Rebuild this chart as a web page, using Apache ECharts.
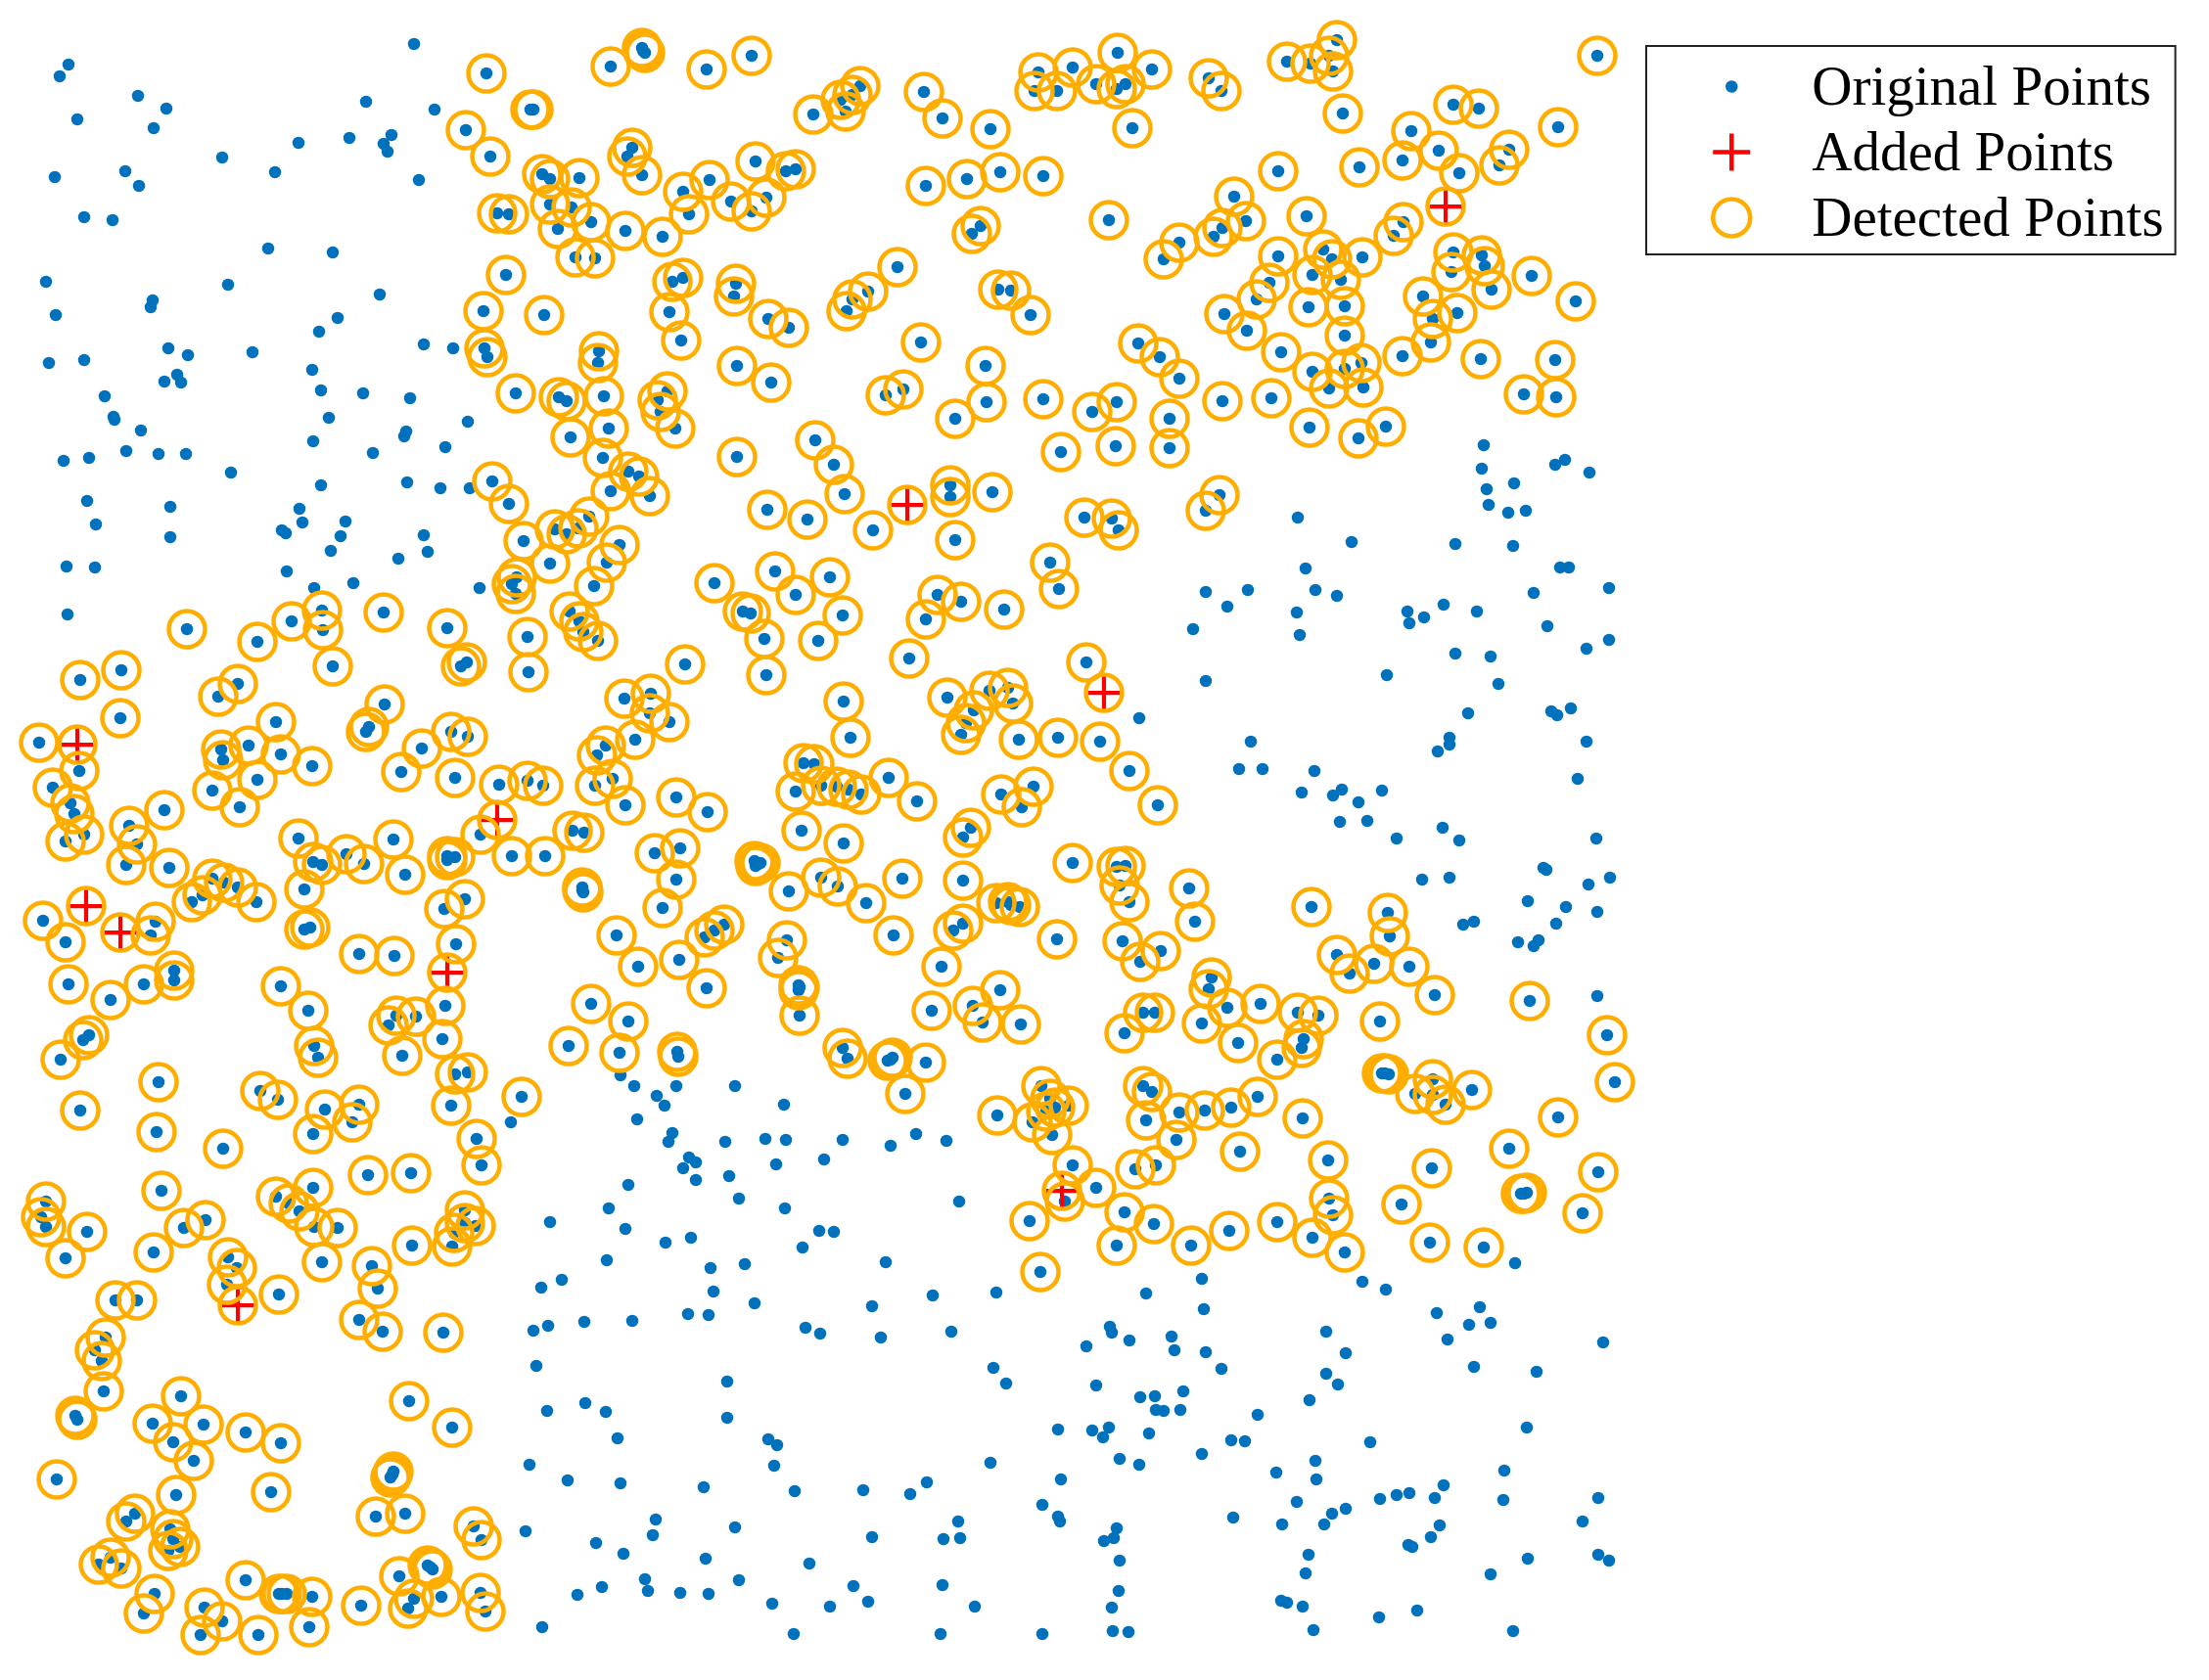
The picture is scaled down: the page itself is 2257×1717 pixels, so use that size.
<!DOCTYPE html>
<html>
<head>
<meta charset="utf-8">
<title>Detected points</title>
<script src="https://cdn.jsdelivr.net/npm/echarts@6/dist/echarts.min.js"></script>
<style>
html,body{margin:0;padding:0;background:#fff;}
#chart{width:2257px;height:1717px;}
</style>
</head>
<body>
<div id="chart"></div>
<script>
// original points that were not picked up by the detector
const plainPoints = [
[423,45],[70,66],[61,78],[141,98],[170,111],[79,122],[157,131],[374,104],[444,112],[305,146],[357,141],[400,138],[392,147],[396,155],[227,161],[281,176],[56,181],[128,175],[142,190],[428,184],[86,222],[115,225],[274,254],[340,258],[47,288],[233,291],[388,301],[156,307],[154,314],[57,322],[345,325],[326,339],[172,356],[192,363],[258,360],[86,368],[50,371],[433,352],[463,356],[319,378],[181,383],[168,390],[185,391],[328,399],[371,402],[419,407],[107,405],
[116,426],[117,429],[144,440],[65,471],[91,468],[129,461],[162,464],[190,464],[236,483],[89,512],[174,518],[98,536],[174,549],[68,579],[97,580],[336,427],[320,451],[381,463],[415,441],[413,446],[455,457],[478,431],[328,496],[416,493],[450,499],[480,499],[306,520],[309,534],[353,533],[288,542],[292,545],[348,548],[338,563],[433,547],[437,564],[407,571],[293,584],[361,596],[321,601],[490,601],[69,628],
[522,1147],[545,1360],[548,1396],[541,1497],[537,1565],
[634,1099],[648,1110],[671,1120],[679,1130],[691,1110],[751,1110],[801,1129],
[687,1158],[683,1167],[741,1167],[782,1164],[803,1165],[861,1165],[910,1171],[936,1159],[967,1166],[651,1144],[704,1183],[711,1188],[698,1194],[711,1206],[745,1202],[793,1190],[842,1185],[642,1211],[755,1225],[622,1235],[802,1235],[562,1249],[639,1256],[680,1270],[706,1265],[837,1258],[852,1259],[820,1275],[620,1288],[726,1296],[761,1292],[905,1290],[980,1228],[574,1308],[553,1316],[729,1320],[771,1332],[891,1335],[953,1324],[1018,1321],[560,1355],[597,1351],[646,1350],[703,1343],[724,1344],[823,1357],[838,1363],[900,1367],[972,1361],[1015,1398],[1028,1414],[743,1412],[598,1434],[559,1442],[619,1443],[743,1449],[631,1470],[1081,1461],[785,1471],[794,1477],[791,1498],[1012,1495],[580,1513],[634,1516],[719,1520],[812,1524],[882,1523],[930,1527],[947,1515],[1084,1512],[1065,1538],[1081,1550],[1083,1555],[979,1555],[670,1553],[667,1569],[751,1561],[891,1571],[964,1573],[981,1572],[609,1577],[637,1588],[721,1593],[827,1598],[659,1614],[662,1626],[615,1622],[590,1630],[695,1628],[724,1629],[755,1615],[872,1621],[887,1637],[789,1639],[848,1642],[963,1620],[996,1642],[554,1663],[811,1670],[961,1670],[1065,1670],
[1516,455],[1514,479],[1519,500],[1547,494],[1589,475],[1599,470],[1624,483],[1521,516],[1541,524],[1559,522],[1326,529],[1381,554],[1487,556],[1546,558],
[1334,581],[1594,580],[1603,580],[1232,605],[1275,603],[1254,620],[1344,603],[1366,609],[1325,626],[1219,643],[1328,649],[1438,625],[1455,631],[1440,637],[1475,618],[1509,625],[1567,606],[1644,601],[1581,640],[1644,654],[1621,663],[1487,668],[1523,671],[1417,690],[1232,696],[1531,699],[1164,734],[1500,729],[1585,727],[1591,731],[1605,724],[1481,754],[1481,761],[1469,768],[1621,758],[1278,758],[1266,786],[1290,786],[1612,796],[1343,788],[1330,810],[1362,813],[1371,807],[1388,820],[1412,808],[1369,840],[1397,839],[1427,857],[1474,846],[1491,859],[1631,857],[1453,899],[1481,897],[1577,887],[1580,889],[1645,897],[1623,904],[1561,921],[1600,927],[1632,932],[1590,944],[1495,945],[1506,942],[1551,963],[1572,961],[1567,967],[1632,1018],
[1548,1291],[1228,1307],[1171,1322],[1392,1310],[1416,1318],[1230,1338],[1468,1342],[1512,1336],[1501,1354],[1523,1352],[1479,1369],[1134,1356],[1136,1362],[1154,1370],[1197,1366],[1200,1380],[1232,1382],[1355,1361],[1375,1383],[1110,1376],[1638,1372],[1506,1397],[1570,1402],[1248,1399],[1355,1404],[1367,1415],[1120,1416],[1165,1428],[1180,1427],[1209,1422],[1181,1441],[1189,1442],[1206,1441],[1338,1431],[1285,1446],[1133,1459],[1116,1462],[1127,1469],[1174,1465],[1258,1472],[1272,1473],[1400,1474],[1560,1459],[1228,1486],[1144,1491],[1164,1497],[1344,1493],[1345,1512],[1304,1505],[1537,1503],[1475,1518],[1466,1531],[1440,1526],[1427,1528],[1410,1532],[1536,1533],[1633,1531],[1617,1555],[1325,1535],[1375,1542],[1361,1547],[1353,1558],[1310,1558],[1260,1551],[1141,1562],[1138,1572],[1128,1575],[1144,1595],[1471,1559],[1462,1571],[1439,1579],[1443,1581],[1337,1589],[1334,1608],[1561,1593],[1523,1609],[1633,1589],[1644,1595],[1143,1626],[1136,1643],[1309,1636],[1315,1638],[1331,1642],[1409,1653],[1448,1646],[1137,1667],[1153,1668],[1342,1666],[1546,1667]
];

// original points that also carry a detection ring
const ringedPoints = [
[497,75],[542,112],[545,112],[476,133],[501,160],[508,218],[520,219],[517,281],[494,318],[495,356],[498,365],[527,402],
[503,492],[520,515],[535,553],[528,590],[523,597],[527,607],
[191,643],[263,656],[298,635],[329,624],[330,644],[392,626],[457,642],[539,651],[340,681],[471,681],[477,677],[540,687],[124,685],[82,695],[123,734],[243,699],[223,712],[393,720],[377,743],[374,748],[282,738],[40,759],[254,762],[226,766],[228,777],[287,771],[319,783],[431,765],[461,748],[478,753],[410,789],[465,795],[81,788],[263,797],[54,805],[217,808],[245,825],[72,821],[76,832],[510,802],[539,798],[168,828],[132,844],[140,863],[67,860],[86,853],[129,884],[173,887],[305,857],[354,873],[372,883],[320,881],[329,884],[402,858],[414,894],[491,853],[457,875],[465,876],[457,879],[523,875],[217,898],[229,902],[243,907],[196,922],[207,915],[262,922],[311,909],[475,919],[454,929],[44,941],[67,963],[159,942],[154,956],[311,950],[317,948],[367,975],[403,977],[466,965],[178,992],[178,1002],[70,1006],[147,1006],[113,1022],[287,1008],[455,1028],
[315,1033],[91,1058],[85,1063],[62,1083],[162,1106],[82,1135],[160,1157],[228,1174],[321,1069],[325,1081],[266,1115],[284,1124],[332,1134],[367,1129],[360,1147],[320,1159],[405,1038],[425,1039],[397,1048],[452,1062],[411,1079],[465,1098],[478,1096],[461,1130],[533,1121],[487,1164],[492,1191],[376,1201],[420,1199],[165,1217],[47,1228],[42,1244],[47,1254],[89,1259],[67,1286],[210,1247],[188,1255],[157,1280],[320,1214],[282,1223],[295,1230],[306,1238],[321,1254],[345,1255],[329,1290],[421,1273],[380,1294],[386,1317],[367,1349],[391,1361],[453,1362],[475,1237],[475,1250],[486,1253],[464,1260],[462,1274],[233,1285],[242,1296],[232,1313],[285,1323],[118,1329],[140,1329],
[108,1367],[97,1380],[104,1391],[106,1422],[77,1447],[79,1451],[185,1427],[156,1455],[208,1456],[177,1474],[198,1493],[251,1464],[287,1475],[418,1432],[462,1459],[402,1504],[399,1510],[401,1507],[58,1512],[277,1525],[180,1528],[384,1550],[414,1547],[138,1547],[129,1555],[174,1563],[177,1573],[184,1581],[172,1585],[484,1560],[492,1574],[113,1592],[101,1599],[124,1603],[251,1615],[437,1600],[442,1604],[440,1602],[408,1611],[158,1629],[147,1649],[209,1643],[227,1657],[205,1671],[264,1671],[285,1629],[293,1629],[288,1629],[319,1632],[316,1663],[369,1641],[423,1634],[451,1632],[417,1644],[491,1628],[496,1647],
[624,68],[656,49],[659,54],[657,52],[722,71],[768,57],[879,88],[859,102],[871,97],[831,117],[864,114],[944,94],[963,121],[1012,132],[1061,74],[1096,69],[1057,93],[1080,93],[646,151],[641,160],[656,179],[554,178],[562,183],[592,182],[562,209],[584,212],[604,227],[570,234],[639,236],[677,242],[588,263],[608,264],[698,196],[725,184],[704,219],[747,206],[772,165],[783,202],[768,216],[803,175],[813,173],[946,190],[988,183],[1022,176],[1066,180],[1002,231],[993,239],[917,273],[887,298],[871,306],[865,318],[1020,296],[1033,297],[1053,322],[687,288],[698,284],[684,319],[696,348],[752,290],[750,303],[785,326],[806,335],[556,322],[612,359],[611,371],[753,374],[788,391],[941,350],[1007,374],[1008,411],[976,428],[1066,408],[923,398],[905,404],[1084,462],[571,406],[579,410],[617,405],[682,400],[672,409],[675,421],[690,438],[583,447],[622,438],[616,468],[642,482],[653,487],[664,507],[624,502],[753,467],[833,450],[852,475],[863,505],[784,521],[825,531],[892,542],[971,496],[971,508],[1014,503],[976,552],[1073,575],[1108,529],[602,528],[567,541],[579,546],[591,540],[633,557],[620,575],[562,576],
[607,599],[582,625],[592,635],[596,646],[611,655],[730,596],[792,584],[813,608],[848,590],[759,625],[767,627],[781,653],[861,629],[836,655],[783,690],[958,608],[982,615],[946,633],[1026,623],[929,673],[1082,602],[700,679],[638,714],[665,709],[664,729],[684,738],[649,756],[619,762],[610,772],[555,803],[608,803],[626,796],[639,823],[691,815],[723,830],[585,849],[597,851],[557,875],[669,872],[695,867],[691,899],[677,928],[595,907],[596,912],[595,910],[771,880],[775,883],[772,885],[777,882],[806,911],[862,717],[869,754],[821,780],[832,781],[813,809],[839,803],[855,804],[867,807],[880,812],[908,795],[937,819],[819,849],[862,862],[839,897],[856,906],[885,923],[922,898],[913,956],[968,713],[995,726],[1011,706],[1030,703],[1035,719],[987,739],[982,751],[1041,756],[1081,754],[1023,812],[1056,804],[1044,825],[992,846],[984,856],[984,900],[1096,882],[1018,923],[1030,922],[1042,927],[1033,925],[984,944],[974,951],[1080,960],[962,988],[952,1033],[994,1028],[1022,1012],[1004,1045],[1043,1047],[630,956],[652,988],[694,981],[720,958],[730,951],[740,945],[722,1010],[804,961],[795,979],[816,1007],[816,1012],[817,1009],[817,1038],[604,1026],[642,1044],[581,1069],[633,1076],[692,1075],[693,1080],[861,1071],[866,1082],[907,1084],[912,1081],[910,1083],[946,1086],[925,1118],[1064,1110],[1073,1123],[1092,1130],[1078,1132],[1069,1136],[1019,1140],[1055,1147],[1075,1160],[1096,1191],[1052,1248],[1063,1300],[1088,1228],
[1142,54],[1177,71],[1120,86],[1141,91],[1150,86],[1235,80],[1248,93],[1157,131],[1315,63],[1339,65],[1366,41],[1358,57],[1362,73],[1372,116],[1632,57],[1485,107],[1511,111],[1442,134],[1592,130],[1470,154],[1433,164],[1491,177],[1542,153],[1532,169],[1306,175],[1389,171],[1261,201],[1133,225],[1273,226],[1249,233],[1240,242],[1205,248],[1189,265],[1335,221],[1434,227],[1424,241],[1306,262],[1352,255],[1361,265],[1392,263],[1297,289],[1341,281],[1370,286],[1485,258],[1514,261],[1517,272],[1483,278],[1524,296],[1565,282],[1610,308],[1284,306],[1251,321],[1337,314],[1374,313],[1454,303],[1489,320],[1464,326],[1462,350],[1274,338],[1163,351],[1185,365],[1205,387],[1374,343],[1309,360],[1341,380],[1374,377],[1391,371],[1358,397],[1393,396],[1433,364],[1513,367],[1589,368],[1557,403],[1590,406],[1141,411],[1116,421],[1249,410],[1299,407],[1195,428],[1140,456],[1195,458],[1338,437],[1416,436],[1388,448],[1246,506],[1232,522],[1136,530],[1143,542],
[1110,677],[1124,758],[1154,788],[1183,823],[1141,886],[1150,885],[1144,905],[1154,922],[1215,908],[1221,942],[1340,927],[1418,933],[1420,957],[1366,976],[1379,995],[1404,985],[1440,988],[1466,1017],[1147,962],[1186,972],[1165,983],[1238,999],[1235,1011],[1254,1030],[1288,1026],[1228,1046],[1265,1066],[1168,1035],[1180,1035],[1149,1056],[1326,1035],[1347,1038],[1332,1062],[1330,1071],[1305,1083],[1410,1044],[1563,1023],[1642,1058],[1650,1106],[1412,1097],[1419,1098],[1415,1097],[1464,1103],[1504,1114],[1446,1118],[1464,1119],[1477,1129],[1168,1110],[1177,1116],[1205,1137],[1231,1135],[1258,1132],[1285,1121],[1171,1145],[1331,1143],[1592,1142],
[1202,1165],[1267,1177],[1160,1195],[1181,1191],[1357,1186],[1120,1214],[1149,1239],[1179,1251],[1141,1273],[1217,1273],[1256,1258],[1305,1249],[1341,1265],[1358,1225],[1362,1242],[1374,1280],[1463,1194],[1432,1231],[1461,1270],[1516,1275],[1542,1174],[1554,1220],[1560,1219],[1557,1220],[1633,1198],[1617,1240]
];

// inserted points, detected as well
const addedPoints = [
[79,761],[88,926],[123,953],[508,838],[457,994],[243,1334],[1477,211],[927,516],[1128,708],[1085,1217]
];

const plusPath = 'path://M14,0h4v14h14v4h-14v14h-4v-14h-14v-4h14z';
// legend icons sit in a 38x46 box, drawn in its top part so they line up with the text
const dotIcon = 'path://M0,0L0,0M38,46L38,46M19,12.75a6.25,6.25 0 1,0 0.01,0z';
const plusIcon = 'path://M38,46L38,46M16.75,0h4.5v16.75h16.75v4.5h-16.75v16.75h-4.5v-16.75h-16.75v-4.5h16.75z';
const ringIcon = 'path://M0,0L0,0M38,46L38,46M19,0a19,19 0 1,0 0.01,0z';

const chart = echarts.init(document.getElementById('chart'));
chart.setOption({
    animation: false,
    backgroundColor: '#fff',
    grid: { left: 0, right: 0, top: 0, bottom: 0 },
    xAxis: { type: 'value', min: 0, max: 2257, show: false },
    yAxis: { type: 'value', min: 0, max: 1717, inverse: true, show: false },
    legend: {
        left: 1682,
        top: 47,
        orient: 'vertical',
        align: 'left',
        itemWidth: 38,
        itemHeight: 46,
        itemGap: 10,
        padding: [17, 12, 5, 66],
        backgroundColor: '#fff',
        borderColor: '#222',
        borderWidth: 2,
        borderRadius: 0,
        selectedMode: false,
        textStyle: {
            fontFamily: 'Liberation Serif',
            fontSize: 57,
            color: '#000',
            padding: [0, 0, 0, 58],
            lineHeight: 56
        },
        data: [
            { name: 'Original Points', icon: dotIcon, itemStyle: { color: '#0072BD', borderWidth: 0 } },
            { name: 'Added Points', icon: plusIcon, itemStyle: { color: '#FF0000', borderWidth: 0 } },
            { name: 'Detected Points', icon: ringIcon, itemStyle: { color: 'transparent', borderColor: '#FFAE00', borderWidth: 4.5 } }
        ]
    },
    series: [
        {
            name: 'Original Points',
            type: 'scatter',
            symbol: 'circle',
            symbolSize: 12.5,
            itemStyle: { color: '#0072BD', opacity: 1 },
            data: plainPoints.concat(ringedPoints)
        },
        {
            name: 'Added Points',
            type: 'scatter',
            symbol: plusPath,
            symbolSize: [33, 34],
            itemStyle: { color: '#FF0000', opacity: 1 },
            data: addedPoints
        },
        {
            name: 'Detected Points',
            type: 'scatter',
            symbol: 'circle',
            symbolSize: 37,
            itemStyle: { color: 'transparent', borderColor: '#FFAE00', borderWidth: 4.5, opacity: 1 },
            data: ringedPoints.concat(addedPoints)
        }
    ]
});
</script>
</body>
</html>
